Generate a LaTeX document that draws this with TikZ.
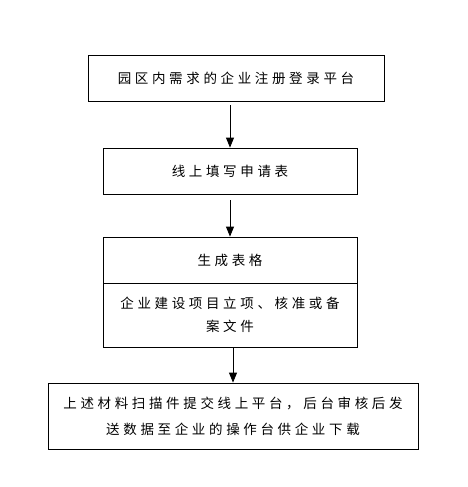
\documentclass[tikz,border=0pt]{standalone}
\usepackage{fontspec}
\newfontfamily\cjk[LetterSpace=27]{Noto Sans CJK SC}
\usetikzlibrary{arrows.meta}
\tikzset{
  box/.style={draw, line width=0.8pt, minimum width=254pt, minimum height=46pt,
    align=center, inner sep=0pt, font=\cjk\fontsize{13.5}{25}\selectfont},
  arr/.style={line width=0.8pt, -{Triangle[length=10pt,width=8pt]}}
}
\begin{document}
\begin{tikzpicture}[x=1pt,y=-1pt]
      \useasboundingbox (0,0) rectangle (467,487);
      \node[box, minimum width=296pt] (reg)  at  (236, 78){园区内需求的企业注册登录平台};
      \node[box] (fill)  at  (230, 171){线上填写申请表};
      \node[box] (form)  at  (230, 260){生成表格};
      \node[box, minimum height=64pt] (docs)  at  (230, 315){企业建设项目立项、核准或备\\[-2pt]案文件};
      \node[box, minimum width=370pt, minimum height=66pt] (scan)  at  (233, 416){上述材料扫描件提交线上平台，后台审核后发\\[1pt]送数据至企业的操作台供企业下载};

      \draw[arr, shorten <=4pt] (reg.south -| fill.north) -- (fill.north);
      \draw[arr, shorten <=6pt] (fill.south) -- (form.north);
      \draw[arr] (docs.south -| scan.north) -- (scan.north);
    \end{tikzpicture}
\end{document}
